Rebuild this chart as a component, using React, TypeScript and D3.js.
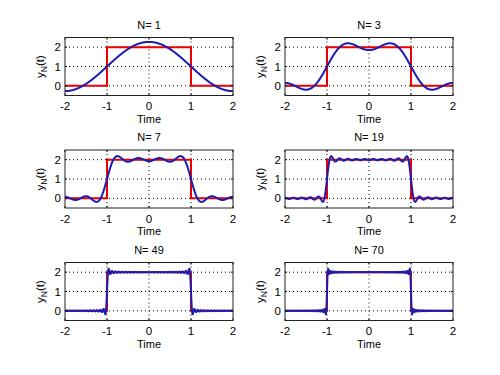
import React from "react";
import * as d3 from "d3";

// ---- data ----
const harmonicCounts = [1, 3, 7, 19, 49, 70];
const pulseT = [-2, -1, -1, 1, 1, 2];
const pulseY = [0, 0, 2, 2, 0, 0];
const xTicks = [-2, -1, 0, 1, 2];
const yTicks = [0, 1, 2];
const xDomain = [-2, 2];
const yDomain = [-0.5, 2.5];
const pulseMean = 1; // DC term of the pulse train (period 4, width 2, height 2)

// Fourier partial sum of the pulse train with N harmonics
function partialSum(N: number, t: number) {
  let s = pulseMean;
  for (let n = 1; n <= N; n++) {
    const a = (4 / (n * Math.PI)) * Math.sin((n * Math.PI) / 2);
    s += a * Math.cos((n * Math.PI * t) / 2);
  }
  return s;
}

const W = 500;
const H = 375;
const colX = [65, 285];
const axW = 168;
const rowY = [37.5, 150, 262.5];
const axH = 58;
const FONT = "'Liberation Sans', Arial, Helvetica, sans-serif";

function Panel({ N, x0, y0 }: { N: number; x0: number; y0: number }) {
  const xs = d3.scaleLinear().domain(xDomain).range([x0, x0 + axW]);
  const ys = d3.scaleLinear().domain(yDomain).range([y0 + axH, y0]);
  const tGrid = d3.range(0, 1601).map((i) => xDomain[0] + (i * (xDomain[1] - xDomain[0])) / 1600);
  const line = d3
    .line<[number, number]>()
    .x((d) => xs(d[0]))
    .y((d) => ys(d[1]));
  const pulse = line(pulseT.map((t, i) => [t, pulseY[i]]) as [number, number][]);
  const approx = line(tGrid.map((t) => [t, partialSum(N, t)]) as [number, number][]);
  const clipId = `clip-${N}`;
  return (
    <g>
      <defs>
        <clipPath id={clipId}>
          <rect x={x0} y={y0} width={axW} height={axH} />
        </clipPath>
      </defs>
      <rect x={x0} y={y0} width={axW} height={axH} fill="#fff" />
      {/* grid */}
      {xTicks.slice(1, -1).map((t) => (
        <line key={"gx" + t} x1={xs(t)} x2={xs(t)} y1={y0} y2={y0 + axH} stroke="#000" strokeWidth={1} strokeDasharray="1,3" />
      ))}
      {yTicks.map((t) => (
        <line key={"gy" + t} x1={x0} x2={x0 + axW} y1={ys(t)} y2={ys(t)} stroke="#000" strokeWidth={1} strokeDasharray="1,3" />
      ))}
      <g clipPath={`url(#${clipId})`}>
        <path d={pulse || ""} fill="none" stroke="#ee0000" strokeWidth={2} />
        <path d={approx || ""} fill="none" stroke="#1c1cb0" strokeWidth={2} strokeLinejoin="round" />
      </g>
      {/* ticks */}
      {xTicks.map((t) => (
        <g key={"tx" + t}>
          <line x1={xs(t)} x2={xs(t)} y1={y0 + axH} y2={y0 + axH - 2} stroke="#000" />
          <line x1={xs(t)} x2={xs(t)} y1={y0} y2={y0 + 2} stroke="#000" />
          <text x={xs(t)} y={y0 + axH + 14.5} fontSize={11.5} textAnchor="middle" fontFamily={FONT}>
            {t}
          </text>
        </g>
      ))}
      {yTicks.map((t) => (
        <g key={"ty" + t}>
          <line x1={x0} x2={x0 + 2} y1={ys(t)} y2={ys(t)} stroke="#000" />
          <line x1={x0 + axW} x2={x0 + axW - 2} y1={ys(t)} y2={ys(t)} stroke="#000" />
          <text x={x0 - 4} y={ys(t) + 4} fontSize={11.5} textAnchor="end" fontFamily={FONT}>
            {t}
          </text>
        </g>
      ))}
      <rect x={x0} y={y0} width={axW} height={axH} fill="none" stroke="#222" strokeWidth={1} />
      <text x={x0 + axW / 2} y={y0 - 9} fontSize={11} textAnchor="middle" fontFamily={FONT}>
        {`N= ${N}`}
      </text>
      <text x={x0 + axW / 2} y={y0 + axH + 27} fontSize={11} textAnchor="middle" fontFamily={FONT}>
        Time
      </text>
      <text
        transform={`translate(${x0 - 21},${y0 + axH / 2}) rotate(-90)`}
        fontSize={11.5}
        textAnchor="middle"
        fontFamily={FONT}
      >
        y<tspan fontSize={8.5} dy={3}>N</tspan>
        <tspan dy={-3}>(t)</tspan>
      </text>
    </g>
  );
}

export default function App() {
  return (
    <svg width={W} height={H} style={{ position: "absolute", left: 0, top: 0, background: "#fff" }}>
      <rect x={0} y={0} width={W} height={H} fill="#fff" />
      {harmonicCounts.map((N, i) => (
        <Panel key={N} N={N} x0={colX[i % 2]} y0={rowY[Math.floor(i / 2)]} />
      ))}
    </svg>
  );
}
